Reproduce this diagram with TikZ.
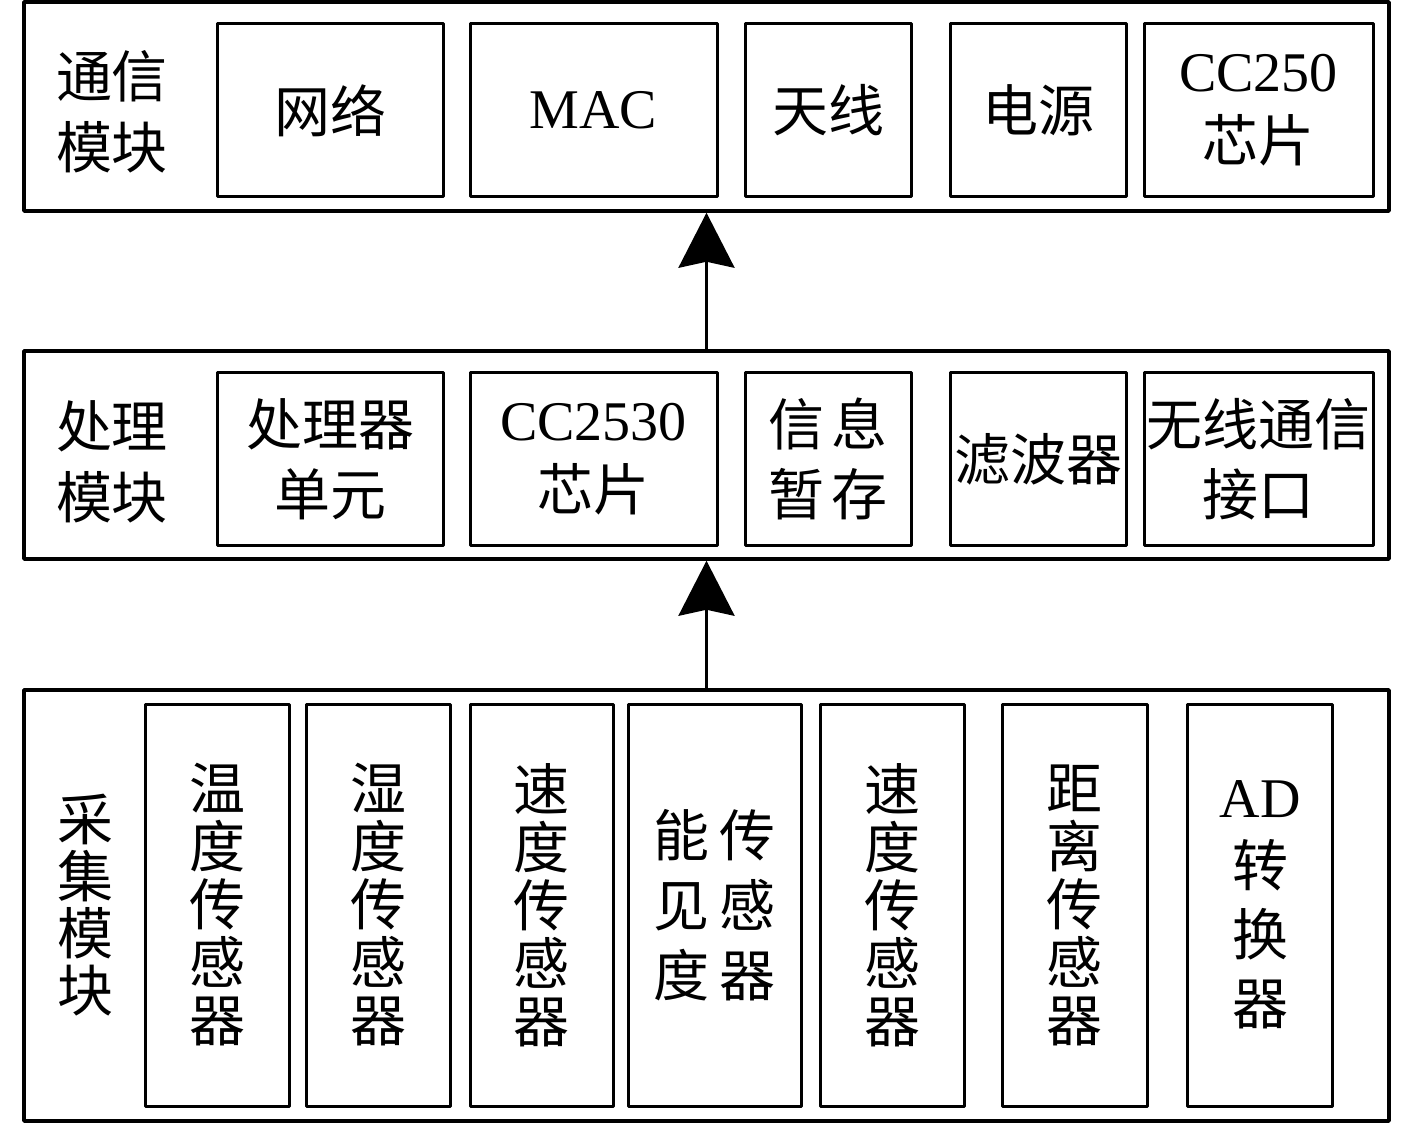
\documentclass[tikz,border=0pt]{standalone}
\usepackage{fontspec}
\setmainfont{Liberation Serif}
\newfontfamily\cjk{Noto Sans CJK SC}
\usetikzlibrary{arrows.meta}
\newcommand{\latn}[1]{{\rmfamily #1}}
\tikzset{
	outerbox/.style={draw,line width=3.5pt,minimum width=1365pt,inner sep=0pt},
	innerbox/.style={draw,line width=3pt,inner sep=0pt,align=center,font=\cjk\fontsize{56}{70}\selectfont},
	modlabel/.style={align=center,inner sep=0pt,font=\cjk\fontsize{56}{71}\selectfont},
	upflow/.style={-{Stealth[length=55pt,width=56pt,inset=6pt]},line width=3pt}
}
\begin{document}
\begin{tikzpicture}[x=1pt,y=-1pt,line join=round]
			\useasboundingbox (0,0) rectangle (1417,1123);
			\def\xmid{706.5}
			\node[outerbox,minimum height=209pt] (comm) at (\xmid,106.5) {};
			\node[outerbox,minimum height=208pt] (proc) at (\xmid,455) {};
			\node[outerbox,minimum height=431pt] (coll) at (\xmid,905.5) {};
			\node[modlabel] (commlbl) at (112,112) {通信\\模块};
			\node[modlabel] (proclbl) at (112,462) {处理\\模块};
			\node[modlabel,font=\cjk\fontsize{56}{57}\selectfont] (colllbl) at (85,905) {采\\集\\模\\块};
			\foreach \cx/\w/\txt [count=\i] in {330/226/网络,593.5/247/\latn{MAC},828/166/天线,1038/176/电源,1258.5/229/{\latn{CC250}\\芯片}}{
				\node[innerbox,minimum width=\w pt,minimum height=173pt] (c\i) at (\cx,110.5) {\txt};
			}
			\foreach \cx/\w/\txt [count=\i] in {330/226/{处理器\\单元},593.5/247/{\latn{CC2530}\\芯片},828/166/{信\hspace{7pt}息\\暂\hspace{7pt}存},1038/176/滤波器,1258.5/229/{无线通信\\接口}}{
				\node[innerbox,minimum width=\w pt,minimum height=172pt] (p\i) at (\cx,459) {\txt};
			}
			\foreach \cx/\w/\sk/\txt [count=\i] in {217/144/58/{温\\度\\传\\感\\器},378/144/58/{湿\\度\\传\\感\\器},541.5/143/58/{速\\度\\传\\感\\器},714.5/173/70/{能\hspace{10pt}传\\见\hspace{10pt}感\\度\hspace{10pt}器},892/144/58/{速\\度\\传\\感\\器},1074.5/145/58/{距\\离\\传\\感\\器},1260/145/69/{\latn{AD}\\转\\换\\器}}{
				\node[innerbox,minimum width=\w pt,minimum height=402pt,font=\cjk\fontsize{56}{\sk}\selectfont] (s\i) at (\cx,905) {\txt};
			}
			\draw[upflow] (proc.north) -- (comm.south);
			\draw[upflow] (coll.north) -- (proc.south);
\end{tikzpicture}
\end{document}
